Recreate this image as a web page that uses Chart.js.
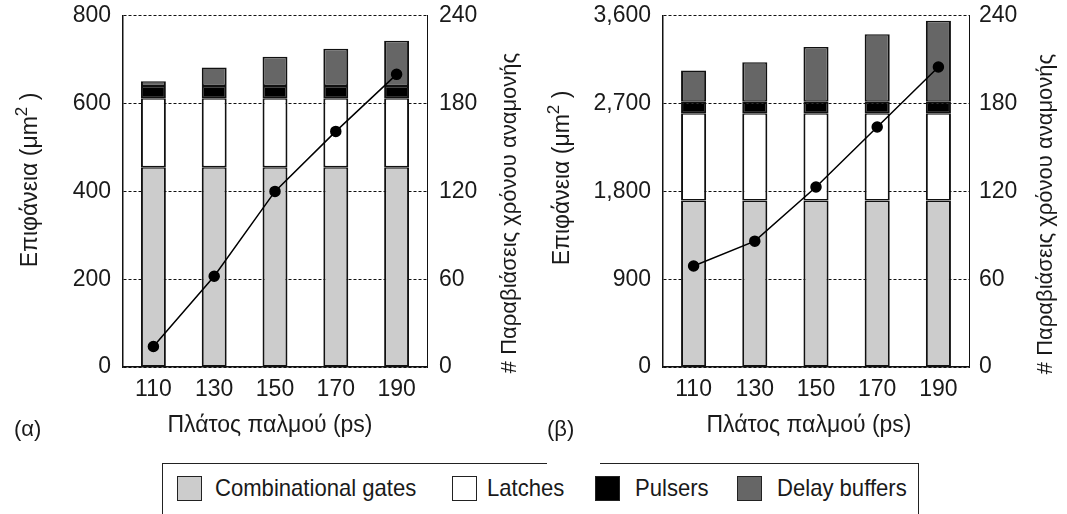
<!DOCTYPE html>
<html>
<head>
<meta charset="utf-8">
<script src="https://cdn.jsdelivr.net/npm/chart.js@4.4.1/dist/chart.umd.min.js"></script>
<style>
    body { margin: 0; background: #fff; width: 1067px; height: 514px; overflow: hidden; position: relative; font-family: "Liberation Sans", Arial, sans-serif; }
    canvas { position: absolute; top: -10px; }
    #graficoA { left: 0; }
    #graficoB { left: 533px; }
    #leyenda { position: absolute; left: 162px; top: 463px; width: 757px; height: 70px; border: 1.5px solid #222; box-sizing: border-box; }
    #hueco { position: absolute; left: 547px; top: 461px; width: 53px; height: 4px; background: #fff; }
    .cuadro { position: absolute; top: 476px; width: 25px; height: 25px; border: 1.5px solid #222; box-sizing: border-box; }
    .etiqueta { position: absolute; top: 474px; font-size: 24px; line-height: 28px; color: #1a1a1a; transform: scaleX(0.92); transform-origin: left center; white-space: nowrap; }
</style>
</head>
<body>
<canvas id="graficoA" width="533" height="460"></canvas>
<canvas id="graficoB" width="534" height="460"></canvas>
<div id="leyenda"></div>
<div id="hueco"></div>
<div id="items"></div>

<script>
// Categorías del eje x (ancho de pulso en ps)
const categorias = ['110', '130', '150', '170', '190'];

// Series y colores de la leyenda
const series = ['Combinational gates', 'Latches', 'Pulsers', 'Delay buffers'];
const colores = ['#cccccc', '#ffffff', '#000000', '#666666'];

// Panel (α): superficie en μm² por componente
const puertasA = [455, 455, 455, 455, 455];
const latchesA = [157, 157, 157, 157, 157];
const pulsersA = [28, 28, 28, 28, 28];
const buffersA = [11, 42, 67, 85, 103];
const violacionesA = [14, 62, 120, 161, 200];

// Panel (β)
const puertasB = [1708, 1708, 1708, 1708, 1708];
const latchesB = [892, 892, 892, 892, 892];
const pulsersB = [120, 120, 120, 120, 120];
const buffersB = [320, 405, 560, 690, 830];
const violacionesB = [69, 86, 123, 164, 205];

// Ejes
const maxIzqA = 800, pasoIzqA = 200;
const maxIzqB = 3600, pasoIzqB = 900;
const maxDer = 240, pasoDer = 60;

// el canvas sube 10px para que el área del gráfico empiece en y=15
const DESPLAZ = 10;

Chart.defaults.font.family = '"Liberation Sans", Arial, sans-serif';
Chart.defaults.color = '#1a1a1a';

// Plugin para los títulos de los ejes y la etiqueta del panel
const textosPlugin = {
    id: 'textos',
    afterDraw(chart, args, o) {
        const ctx = chart.ctx;
        ctx.save();
        ctx.fillStyle = '#1a1a1a';
        const fuente = '"Liberation Sans", Arial, sans-serif';

        // título eje izquierdo, con el exponente aparte
        ctx.save();
        ctx.translate(o.izqX, o.izqY + DESPLAZ);
        ctx.rotate(-Math.PI / 2);
        ctx.textBaseline = 'middle';
        const parte1 = 'Επιφάνεια (μm';
        const parte2 = ' )';
        ctx.font = '17px ' + fuente;
        const anchoExp = ctx.measureText('2').width;
        ctx.font = '23px ' + fuente;
        const total = ctx.measureText(parte1).width + anchoExp + ctx.measureText(parte2).width;
        let x0 = -total / 2;
        ctx.textAlign = 'left';
        ctx.fillText(parte1, x0, 0);
        x0 += ctx.measureText(parte1).width;
        ctx.font = '17px ' + fuente;
        ctx.fillText('2', x0, -9);
        x0 += anchoExp;
        ctx.font = '23px ' + fuente;
        ctx.fillText(parte2, x0, 0);
        ctx.restore();

        // título eje derecho (se lee de abajo hacia arriba)
        ctx.save();
        ctx.font = '22px ' + fuente;
        ctx.translate(o.derX, o.derY + DESPLAZ);
        ctx.rotate(-Math.PI / 2);
        ctx.textAlign = 'center';
        ctx.textBaseline = 'middle';
        ctx.fillText('# Παραβιάσεις χρόνου αναμονής', 0, 0);
        ctx.restore();

        // título eje x
        ctx.font = '23px ' + fuente;
        ctx.textAlign = 'center';
        ctx.textBaseline = 'alphabetic';
        ctx.fillText('Πλάτος παλμού (ps)', o.xX, 432 + DESPLAZ);

        // etiqueta del panel
        ctx.font = '22px ' + fuente;
        ctx.textAlign = 'left';
        ctx.fillText(o.panel, o.panelX, 436 + DESPLAZ);
        ctx.restore();
    }
};

function crearGrafico(id, datos, ejes, textos) {
    const ctx = document.getElementById(id).getContext('2d');
    const barra = (i, valores) => ({
        type: 'bar',
        label: series[i],
        data: valores,
        backgroundColor: colores[i],
        borderColor: '#111',
        borderWidth: { left: 2, right: 2, top: 1.5, bottom: 1.5 },
        borderSkipped: false,
        barPercentage: 0.41,
        categoryPercentage: 1.0,
        yAxisID: 'y',
        order: 1
    });

    return new Chart(ctx, {
        data: {
            labels: categorias,
            datasets: [
                {
                    type: 'line',
                    label: '# Παραβιάσεις',
                    data: datos.violaciones,
                    borderColor: '#000',
                    borderWidth: 1.5,
                    pointRadius: 5,
                    pointBackgroundColor: '#000',
                    pointBorderColor: '#000',
                    tension: 0,
                    yAxisID: 'y1',
                    order: 0
                },
                barra(0, datos.puertas),
                barra(1, datos.latches),
                barra(2, datos.pulsers),
                barra(3, datos.buffers)
            ]
        },
        options: {
            responsive: false,
            animation: false,
            layout: { padding: { top: 5, left: 0, right: 0, bottom: 0 } },
            plugins: {
                legend: { display: false },
                tooltip: { enabled: false },
                textos: textos
            },
            scales: {
                x: {
                    stacked: true,
                    grid: { display: false, drawTicks: false },
                    border: { display: true, color: '#111', width: 1.5 },
                    ticks: { font: { size: 23 }, padding: 9, maxRotation: 0 },
                    afterFit: (s) => { s.height = 83; }
                },
                y: {
                    stacked: true,
                    position: 'left',
                    min: 0,
                    max: ejes.max,
                    ticks: { stepSize: ejes.paso, font: { size: 23 }, padding: 12 },
                    grid: { color: '#111', lineWidth: 1, drawTicks: false },
                    border: { display: true, color: '#111', width: 1.5, dash: [3, 2] },
                    afterFit: (s) => { s.width = ejes.anchoIzq; }
                },
                y1: {
                    position: 'right',
                    min: 0,
                    max: maxDer,
                    ticks: { stepSize: pasoDer, font: { size: 23 }, padding: ejes.padDer },
                    grid: { display: false, drawTicks: false },
                    border: { display: true, color: '#111', width: 1, dash: [3, 2] },
                    afterFit: (s) => { s.width = ejes.anchoDer; }
                }
            }
        },
        plugins: [textosPlugin]
    });
}

document.addEventListener('DOMContentLoaded', function () {
    crearGrafico('graficoA',
        { puertas: puertasA, latches: latchesA, pulsers: pulsersA, buffers: buffersA, violaciones: violacionesA },
        { max: maxIzqA, paso: pasoIzqA, anchoIzq: 123, anchoDer: 106, padDer: 12 },
        { izqX: 31, izqY: 180, derX: 510, derY: 213, xX: 270, panel: '(α)', panelX: 14 });

    crearGrafico('graficoB',
        { puertas: puertasB, latches: latchesB, pulsers: pulsersB, buffers: buffersB, violaciones: violacionesB },
        { max: maxIzqB, paso: pasoIzqB, anchoIzq: 130, anchoDer: 98, padDer: 10 },
        { izqX: 30, izqY: 178, derX: 513, derY: 214, xX: 276, panel: '(β)', panelX: 14 });

    // leyenda común en HTML
    const cont = document.getElementById('items');
    const xCuadros = [177, 452, 595, 737];
    const xTextos = [215, 487, 635, 777];
    series.forEach((nombre, i) => {
        const c = document.createElement('div');
        c.className = 'cuadro';
        c.style.left = xCuadros[i] + 'px';
        c.style.background = colores[i];
        cont.appendChild(c);
        const t = document.createElement('div');
        t.className = 'etiqueta';
        t.style.left = xTextos[i] + 'px';
        t.textContent = nombre;
        cont.appendChild(t);
    });
});
</script>
</body>
</html>
